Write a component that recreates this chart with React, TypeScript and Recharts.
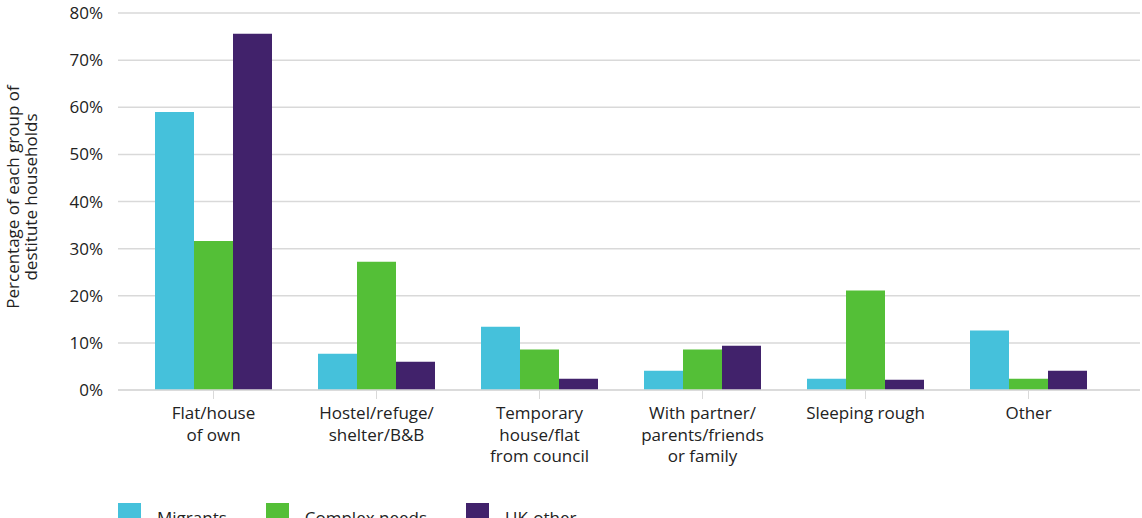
import React from "react";
import { BarChart, Bar, XAxis, YAxis, CartesianGrid, Legend } from "recharts";

const categories = [
  "Flat/house\nof own",
  "Hostel/refuge/\nshelter/B&B",
  "Temporary\nhouse/flat\nfrom council",
  "With partner/\nparents/friends\nor family",
  "Sleeping rough",
  "Other",
];
const migrants = [59.0, 7.7, 13.4, 4.1, 2.4, 12.6];
const complexNeeds = [31.6, 27.2, 8.6, 8.6, 21.1, 2.4];
const ukOther = [75.6, 6.0, 2.4, 9.4, 2.2, 4.1];
const yTicks = [0, 10, 20, 30, 40, 50, 60, 70, 80];
const seriesNames = ["Migrants", "Complex needs", "UK-other"];
const colors = ["#45c1db", "#54bf37", "#41226b"];

const data = categories.map((c, i) => ({
  name: c,
  Migrants: migrants[i],
  "Complex needs": complexNeeds[i],
  "UK-other": ukOther[i],
}));

const FONT = "'Open Sans', Lato, sans-serif";

const XTick = (props: any) => {
  const { x, y, payload } = props;
  const lines = String(payload.value).split("\n");
  return (
    <g transform={`translate(${x},${y})`}>
      {lines.map((l, i) => (
        <text
          key={i}
          x={0}
          y={18 + i * 21.5}
          textAnchor="middle"
          fill="#222"
          fontSize={17}
          fontFamily={FONT}
        >
          {l}
        </text>
      ))}
    </g>
  );
};

const YLabel = () => (
  <g transform="translate(22,197) rotate(-90)">
    <text x={0} y={-3} textAnchor="middle" fill="#222" fontSize={17} fontFamily={FONT}>
      Percentage of each group of
    </text>
    <text x={0} y={15} textAnchor="middle" fill="#222" fontSize={17} fontFamily={FONT}>
      destitute households
    </text>
  </g>
);

const LegendContent = () => (
  <div style={{ display: "flex", fontFamily: FONT, fontSize: 17, color: "#222" }}>
    {seriesNames.map((n, i) => (
      <div key={n} style={{ display: "flex", alignItems: "flex-start", marginRight: 39 }}>
        <div style={{ width: 23, height: 23, background: colors[i], marginRight: 16 }} />
        <span style={{ lineHeight: "23px", marginTop: 3 }}>{n}</span>
      </div>
    ))}
  </div>
);

export default function App() {
  return (
    <div style={{ position: "absolute", left: 0, top: 0, width: 1142, height: 518, overflow: "hidden", background: "#fff" }}>
      <BarChart
        width={1142}
        height={518}
        data={data}
        margin={{ top: 13, right: 2, left: 0, bottom: 0 }}
        barGap={0}
        barCategoryGap={23}
      >
        <CartesianGrid vertical={false} stroke="#d9d9d9" strokeWidth={1.5} />
        <XAxis
          dataKey="name"
          interval={0}
          height={128}
          tick={<XTick />}
          tickSize={9}
          tickLine={{ stroke: "#d9d9d9" }}
          axisLine={{ stroke: "#d9d9d9", strokeWidth: 1.5 }}
          padding={{ left: 14, right: 30 }}
        />
        <YAxis
          width={118}
          domain={[0, 80]}
          ticks={yTicks}
          tickFormatter={(v) => `${v}%`}
          tickLine={false}
          axisLine={false}
          tickMargin={9}
          tick={{ fill: "#222", fontSize: 17, fontFamily: FONT }}
          label={<YLabel />}
        />
        <Legend
          content={<LegendContent />}
          wrapperStyle={{ position: "absolute", top: 503, left: 118, height: 0, width: 800 }}
        />
        {seriesNames.map((n, i) => (
          <Bar key={n} dataKey={n} fill={colors[i]} isAnimationActive={false} />
        ))}
      </BarChart>
    </div>
  );
}
